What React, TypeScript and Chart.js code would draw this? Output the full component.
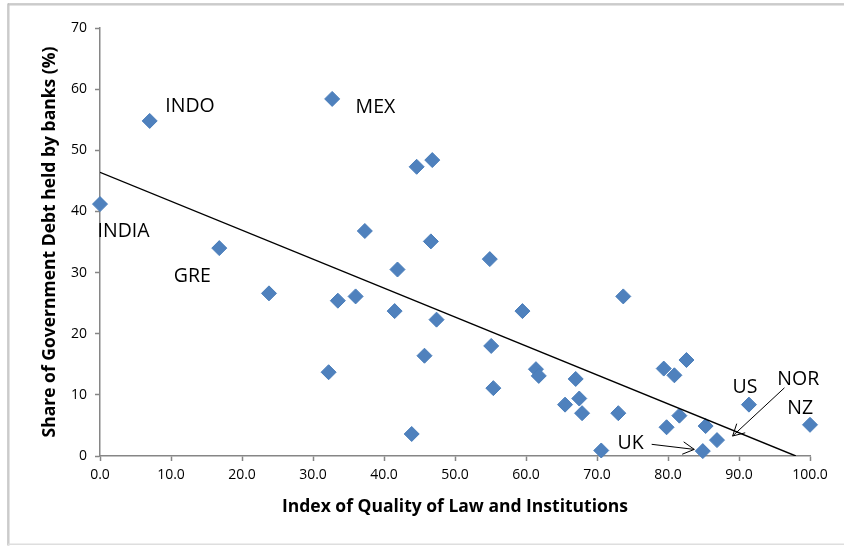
import React, { useEffect, useRef } from "react";
import { Chart, registerables } from "chart.js";

Chart.register(...registerables);

// Index of Quality of Law and Institutions (x) per country
const qualityIndex = [
  0.0, 7.0, 16.8, 23.8, 32.7, 44.6, 46.8, 37.3, 46.6, 41.9,
  33.5, 36.0, 41.5, 47.4, 54.9, 59.5, 32.2, 45.7, 55.1, 55.4,
  43.9, 61.4, 61.8, 73.7, 67.0, 65.5, 67.5, 67.9, 73.0, 70.6,
  79.4, 80.9, 82.6, 81.6, 79.8, 85.3, 86.9, 84.9, 91.4, 100.0,
];

// Share of government debt held by banks, % (y) per country
const bankShare = [
  41.2, 54.8, 34.0, 26.6, 58.4, 47.3, 48.4, 36.8, 35.1, 30.5,
  25.4, 26.1, 23.7, 22.3, 32.2, 23.7, 13.7, 16.4, 18.0, 11.1,
  3.6, 14.2, 13.1, 26.1, 12.6, 8.4, 9.4, 7.0, 7.0, 0.9,
  14.3, 13.2, 15.7, 6.6, 4.7, 4.9, 2.6, 0.8, 8.4, 5.1,
];

// Linear trend line end points
const trendX = [0, 98];
const trendY = [46.4, 0];

// Axis tick values
const xTickValues = [0, 10, 20, 30, 40, 50, 60, 70, 80, 90, 100];
const yTickValues = [0, 10, 20, 30, 40, 50, 60, 70];

const FONT = "'Open Sans', Lato, sans-serif";

// White page with the light grey frame around the chart
const framePlugin = {
  id: "frame",
  beforeDraw(chart: any) {
    const { ctx, width, height } = chart;
    ctx.save();
    ctx.fillStyle = "#ffffff";
    ctx.fillRect(0, 0, width, height);
    ctx.fillStyle = "#a0a0a0";
    ctx.fillRect(8, 3.5, width - 8, 1);
    ctx.fillRect(7.5, 3.5, 1, height - 4);
    ctx.fillStyle = "#c8c8c8";
    ctx.fillRect(8, 4.5, width - 8, 1);
    ctx.fillRect(8.5, 4.5, 1, height - 5);
    ctx.fillStyle = "#dedede";
    ctx.fillRect(8, height - 2.5, width - 8, 1.5);
    ctx.restore();
  },
};

// Country name call-outs and arrows, anchored in data units
const calloutPlugin = {
  id: "callouts",
  afterDatasetsDraw(chart: any, _args: any, opts: any) {
    const { ctx } = chart;
    const xs = chart.scales.x;
    const ys = chart.scales.y;
    ctx.save();
    ctx.font = opts.font;
    ctx.fillStyle = "#000000";
    ctx.textAlign = "left";
    ctx.textBaseline = "middle";
    for (const l of opts.labels) {
      ctx.fillText(l.text, xs.getPixelForValue(l.x), ys.getPixelForValue(l.y));
    }
    ctx.strokeStyle = "#000000";
    ctx.lineWidth = 1;
    for (const a of opts.arrows) {
      const x0 = xs.getPixelForValue(a.from[0]);
      const y0 = ys.getPixelForValue(a.from[1]);
      const x1 = xs.getPixelForValue(a.to[0]);
      const y1 = ys.getPixelForValue(a.to[1]);
      const ang = Math.atan2(y1 - y0, x1 - x0);
      const head = 13;
      const spread = 0.5;
      ctx.beginPath();
      ctx.moveTo(x0, y0);
      ctx.lineTo(x1, y1);
      ctx.moveTo(x1 - head * Math.cos(ang - spread), y1 - head * Math.sin(ang - spread));
      ctx.lineTo(x1, y1);
      ctx.lineTo(x1 - head * Math.cos(ang + spread), y1 - head * Math.sin(ang + spread));
      ctx.stroke();
    }
    ctx.restore();
  },
};

export default function App() {
  const canvasRef = useRef<HTMLCanvasElement | null>(null);

  useEffect(() => {
    const canvas = canvasRef.current;
    if (!canvas) return;

    const points = qualityIndex.map((x, i) => ({ x, y: bankShare[i] }));
    const trend = trendX.map((x, i) => ({ x, y: trendY[i] }));

    const chart = new Chart(canvas, {
      type: "scatter",
      data: {
        datasets: [
          {
            type: "line",
            data: trend,
            borderColor: "#000000",
            borderWidth: 1.4,
            pointRadius: 0,
            fill: false,
          } as any,
          {
            data: points,
            clip: false,
            pointStyle: "rectRot",
            pointRadius: 7.5,
            pointBackgroundColor: "#4f81bd",
            pointBorderColor: "#4a7ebb",
            pointBorderWidth: 1,
          } as any,
        ],
      },
      options: {
        animation: false,
        responsive: false,
        events: [],
        layout: { padding: { left: 0, right: 34, top: 28, bottom: 0 } },
        plugins: {
          legend: { display: false },
          tooltip: { enabled: false },
          callouts: {
            font: `19.5px ${FONT}`,
            labels: [
              { text: "INDO", x: 9.2, y: 57.2 },
              { text: "MEX", x: 36.0, y: 57.0 },
              { text: "INDIA", x: -0.35, y: 36.8 },
              { text: "GRE", x: 10.4, y: 29.3 },
              { text: "US", x: 89.1, y: 11.2 },
              { text: "NOR", x: 95.4, y: 12.6 },
              { text: "NZ", x: 96.8, y: 7.8 },
              { text: "UK", x: 72.9, y: 2.0 },
            ],
            arrows: [
              { from: [77.7, 1.91], to: [83.7, 1.08] },
              { from: [96.4, 11.15], to: [89.1, 3.27] },
            ],
          },
        } as any,
        scales: {
          x: {
            type: "linear",
            min: 0,
            max: 100,
            afterBuildTicks: (scale: any) => {
              scale.ticks = xTickValues.map((v) => ({ value: v }));
            },
            afterFit: (scale: any) => {
              scale.height = 90;
            },
            grid: {
              display: true,
              drawOnChartArea: false,
              drawTicks: true,
              tickLength: 5,
              tickColor: "#868686",
              tickWidth: 1.5,
            },
            border: { display: true, color: "#868686", width: 1.5 },
            ticks: {
              padding: 6,
              color: "#000000",
              font: { family: FONT, size: 14 },
              callback: (v: any) => Number(v).toFixed(1),
            },
            title: {
              display: true,
              text: "Index of Quality of Law and Institutions",
              color: "#000000",
              font: { family: FONT, size: 17.5, weight: "bold" },
              padding: { top: 0, bottom: 28 },
            },
          },
          y: {
            type: "linear",
            min: 0,
            max: 70,
            afterBuildTicks: (scale: any) => {
              scale.ticks = yTickValues.map((v) => ({ value: v }));
            },
            afterFit: (scale: any) => {
              scale.width = 100;
            },
            grid: {
              display: true,
              drawOnChartArea: false,
              drawTicks: true,
              tickLength: 5,
              tickColor: "#868686",
              tickWidth: 1.5,
            },
            border: { display: true, color: "#868686", width: 1.5 },
            ticks: {
              padding: 8,
              color: "#000000",
              font: { family: FONT, size: 14 },
              callback: (v: any) => String(v),
            },
            title: {
              display: true,
              text: "Share of Government Debt held by banks (%)",
              color: "#000000",
              font: { family: FONT, size: 17.5, weight: "bold" },
              padding: { top: 39.5, bottom: 0 },
            },
          },
        },
      },
      plugins: [framePlugin, calloutPlugin],
    });

    return () => chart.destroy();
  }, []);

  return (
    <div style={{ position: "absolute", left: 0, top: 0, width: 844, height: 546 }}>
      <canvas ref={canvasRef} width={844} height={546} style={{ display: "block" }} />
    </div>
  );
}
